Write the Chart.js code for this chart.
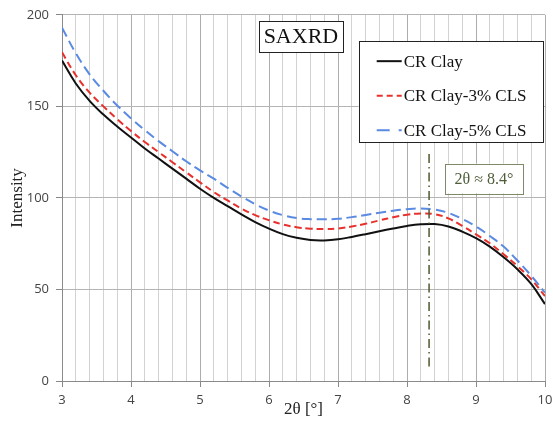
<!DOCTYPE html>
<html>
<head>
<meta charset="utf-8">
<script src="https://cdn.jsdelivr.net/npm/chart.js@4.4.1/dist/chart.umd.min.js"></script>
<style>
  html, body { margin: 0; padding: 0; background: #fff; }
  #wrap { width: 553px; height: 423px; }
</style>
</head>
<body>
<div id="wrap"><canvas id="chart" width="553" height="423"></canvas></div>
<script>
// 2theta positions (degrees)
const angles = [3.0, 3.2, 3.4, 3.6, 3.8, 4.0, 4.2, 4.4, 4.6, 4.8, 5.0, 5.2, 5.4, 5.6, 5.8, 6.0, 6.2, 6.4,
  6.6, 6.8, 7.0, 7.2, 7.4, 7.6, 7.8, 8.0, 8.2, 8.4, 8.6, 8.8, 9.0, 9.2, 9.4, 9.6, 9.8, 10.0];

const crClay = [175, 162.5, 153, 145.5, 139, 133, 127, 121.5, 116, 110.5, 105, 100, 95.5, 91, 86.8, 83.2, 80.2, 78.2,
  77, 76.8, 77.4, 78.7, 80.2, 81.8, 83.3, 84.7, 85.6, 85.7, 84.4, 81.6, 78, 73.4, 67.6, 61, 53, 42];
const crClay3 = [179.5, 167, 157.5, 150, 143, 136.5, 130.5, 125, 119.5, 114, 108.5, 103.2, 98.6, 94.2, 90.6, 87.8, 85.5, 84,
  83.2, 83, 83.3, 84.4, 85.9, 87.7, 89.4, 90.8, 91.5, 91.1, 88.8, 84.7, 80.1, 75.2, 69.2, 62.8, 55.6, 46.4];
const crClay5 = [193, 179, 167.5, 158.5, 150.5, 143.5, 137, 131, 125.5, 120, 115, 110.5, 105.5, 100.8, 96.6, 93.1, 90.6, 89,
  88.4, 88.3, 88.6, 89.5, 90.7, 91.9, 93, 93.8, 94.2, 93.7, 91.8, 88.5, 84.4, 79.2, 73.4, 65.8, 57.5, 48.2];

const seriesNames = ['CR Clay', 'CR Clay-3% CLS', 'CR Clay-5% CLS'];
const xTitle = '2θ [°]';
const yTitle = 'Intensity';
const chartLabel = 'SAXRD';
const peakLabel = '2θ ≈ 8.4°';
const peakX = 8.32;
const peakLineRange = [7, 124];

const toPts = (ys) => ys.map((y, i) => ({ x: angles[i], y: y }));

const serif = '"Liberation Serif", "Times New Roman", serif';
const colors = ['#111111', '#e8302c', '#5a8ae2'];
const dashes = [[], [7, 4], [10, 5]];

const overlay = {
  id: 'overlay',
  afterDatasetsDraw(chart) {
    const ctx = chart.ctx;
    const xs = chart.scales.x, ys = chart.scales.y;
    ctx.save();

    // dash-dot marker line at the peak
    ctx.strokeStyle = '#4d5a30';
    ctx.lineWidth = 1.5;
    ctx.setLineDash([9, 4, 1.5, 4]);
    const px = xs.getPixelForValue(peakX);
    ctx.beginPath();
    ctx.moveTo(px, ys.getPixelForValue(peakLineRange[1]));
    ctx.lineTo(px, ys.getPixelForValue(peakLineRange[0]));
    ctx.stroke();
    ctx.setLineDash([]);

    // SAXRD box
    let x0 = xs.getPixelForValue(5.855), y0 = ys.getPixelForValue(196.4);
    let x1 = xs.getPixelForValue(7.07), y1 = ys.getPixelForValue(179.7);
    ctx.fillStyle = '#fff';
    ctx.fillRect(x0, y0, x1 - x0, y1 - y0);
    ctx.strokeStyle = '#222';
    ctx.lineWidth = 1;
    ctx.strokeRect(Math.round(x0) + 0.5, Math.round(y0) + 0.5, Math.round(x1 - x0), Math.round(y1 - y0));
    ctx.fillStyle = '#111';
    ctx.font = '22px ' + serif;
    ctx.textAlign = 'center';
    ctx.textBaseline = 'middle';
    ctx.fillText(chartLabel, (x0 + x1) / 2, (y0 + y1) / 2 + 1);

    // peak label box
    x0 = xs.getPixelForValue(8.55); y0 = ys.getPixelForValue(118.7);
    x1 = xs.getPixelForValue(9.68); y1 = ys.getPixelForValue(102.5);
    ctx.fillStyle = '#fff';
    ctx.fillRect(x0, y0, x1 - x0, y1 - y0);
    ctx.strokeStyle = '#7d8a6a';
    ctx.strokeRect(Math.round(x0) + 0.5, Math.round(y0) + 0.5, Math.round(x1 - x0), Math.round(y1 - y0));
    ctx.fillStyle = '#4f5d3a';
    ctx.font = '16px ' + serif;
    ctx.fillText(peakLabel, (x0 + x1) / 2, (y0 + y1) / 2 + 1);

    // legend box
    x0 = xs.getPixelForValue(7.30); y0 = ys.getPixelForValue(185.6);
    x1 = xs.getPixelForValue(9.97); y1 = ys.getPixelForValue(130.6);
    ctx.fillStyle = '#fff';
    ctx.fillRect(x0, y0, x1 - x0, y1 - y0);
    ctx.strokeStyle = '#222';
    ctx.strokeRect(Math.round(x0) + 0.5, Math.round(y0) + 0.5, Math.round(x1 - x0), Math.round(y1 - y0));
    const legendDash = [[], [6, 4], [13, 9]];
    ctx.font = '17px ' + serif;
    ctx.textAlign = 'left';
    seriesNames.forEach((name, i) => {
      const ry = y0 + 20 + i * 34.5;
      ctx.strokeStyle = colors[i];
      ctx.lineWidth = 2;
      ctx.setLineDash(legendDash[i]);
      ctx.beginPath();
      ctx.moveTo(x0 + 18, ry);
      ctx.lineTo(x0 + 43, ry);
      ctx.stroke();
      ctx.setLineDash([]);
      ctx.fillStyle = '#111';
      ctx.fillText(name, x0 + 45, ry + 1);
    });
    ctx.restore();
  }
};

new Chart(document.getElementById('chart'), {
  type: 'line',
  data: {
    datasets: [crClay, crClay3, crClay5].map((d, i) => ({
      label: seriesNames[i],
      data: toPts(d),
      borderColor: colors[i],
      borderWidth: 2,
      borderDash: dashes[i],
      pointRadius: 0,
      fill: false,
      tension: 0.4
    }))
  },
  options: {
    responsive: false,
    animation: false,
    layout: { padding: { left: 7, right: 8, top: 11, bottom: 3 } },
    plugins: { legend: { display: false }, tooltip: { enabled: false } },
    scales: {
      x: {
        type: 'linear',
        min: 3, max: 10,
        afterFit: (s) => { s.height = 39; s.paddingLeft = 0; s.paddingRight = 0; },
        ticks: {
          stepSize: 0.2,
          autoSkip: false,
          maxRotation: 0,
          padding: 5,
          color: '#444',
          font: { family: '"Open Sans", sans-serif', size: 13 },
          callback: (v) => Math.abs(v - Math.round(v)) < 1e-6 ? String(Math.round(v)) : ''
        },
        grid: {
          color: (c) => (c.tick && Math.abs(c.tick.value - Math.round(c.tick.value)) < 1e-6) ? '#adadad' : '#d2d2d2',
          tickColor: (c) => (c.tick && Math.abs(c.tick.value - Math.round(c.tick.value)) < 1e-6) ? '#888' : 'rgba(0,0,0,0)',
          tickLength: 6
        },
        border: { color: '#8a8a8a' },
        title: {
          display: true,
          text: xTitle,
          color: '#222',
          font: { family: serif, size: 17 },
          padding: 0
        }
      },
      y: {
        min: 0, max: 200,
        afterFit: (s) => { s.width = 55; },
        ticks: {
          stepSize: 50,
          padding: 7,
          color: '#444',
          font: { family: '"Open Sans", sans-serif', size: 13 }
        },
        grid: { color: '#b4b4b4', tickColor: '#888', tickLength: 6 },
        border: { color: '#8a8a8a' },
        title: {
          display: true,
          text: yTitle,
          color: '#222',
          font: { family: serif, size: 17 },
          padding: 0
        }
      }
    }
  },
  plugins: [overlay]
});
</script>
</body>
</html>
